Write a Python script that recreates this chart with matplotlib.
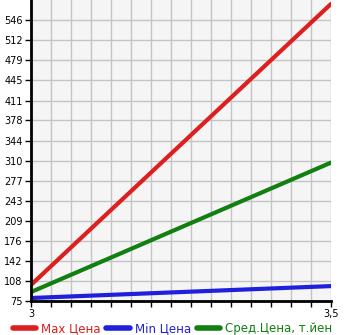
import matplotlib
matplotlib.use("Agg")
import matplotlib.pyplot as plt
import numpy as np

x = [3.0, 3.5]
max_price = [102, 573]
min_price = [80, 100]
avg_price = [90, 307]
ytick_vals = [75, 108, 142, 176, 209, 243, 277, 310, 344, 378, 411, 445, 479, 512, 546]
ylo, yhi = 75, 579.6

fig = plt.figure(figsize=(3.45, 3.35), dpi=100)
ax = fig.add_axes([31/345, 34/335, 300/345, 301/335])
ax.set_facecolor("#f5f5f5")

ax.plot(x, max_price, color="#dd1f1f", lw=3, solid_capstyle="round", label="Max Цена")
ax.plot(x, min_price, color="#1f1fdd", lw=3, solid_capstyle="round", label="Min Цена")
ax.plot(x, avg_price, color="#118011", lw=3, solid_capstyle="round", label="Сред.Цена, т.йен")

ax.set_xlim(3.0, 3.5)
ax.set_ylim(ylo, yhi)
ax.set_xticks(np.linspace(3.0, 3.5, 16))
ax.set_xticklabels(["3"] + [""] * 14 + ["3,5"])
ax.set_yticks(ytick_vals)
ax.set_yticklabels([str(v) for v in ytick_vals])
ax.grid(True, color="#c4c4c4", lw=1)
ax.set_axisbelow(True)
for s in ["top", "right"]:
    ax.spines[s].set_visible(False)
for s in ["left", "bottom"]:
    ax.spines[s].set_linewidth(2)
ax.tick_params(axis="both", labelsize=7, length=4, width=1, pad=2)

leg = fig.legend(loc="lower center", bbox_to_anchor=(0.5, -0.012), ncol=3, frameon=False,
                 fontsize=8.5, handlelength=2.0, columnspacing=0.5, handletextpad=0.4,
                 borderpad=0.2, borderaxespad=0.1)
for t, l in zip(leg.get_texts(), leg.get_lines()):
    t.set_color(l.get_color())
    l.set_linewidth(4)

plt.savefig("out.png", dpi=100)
